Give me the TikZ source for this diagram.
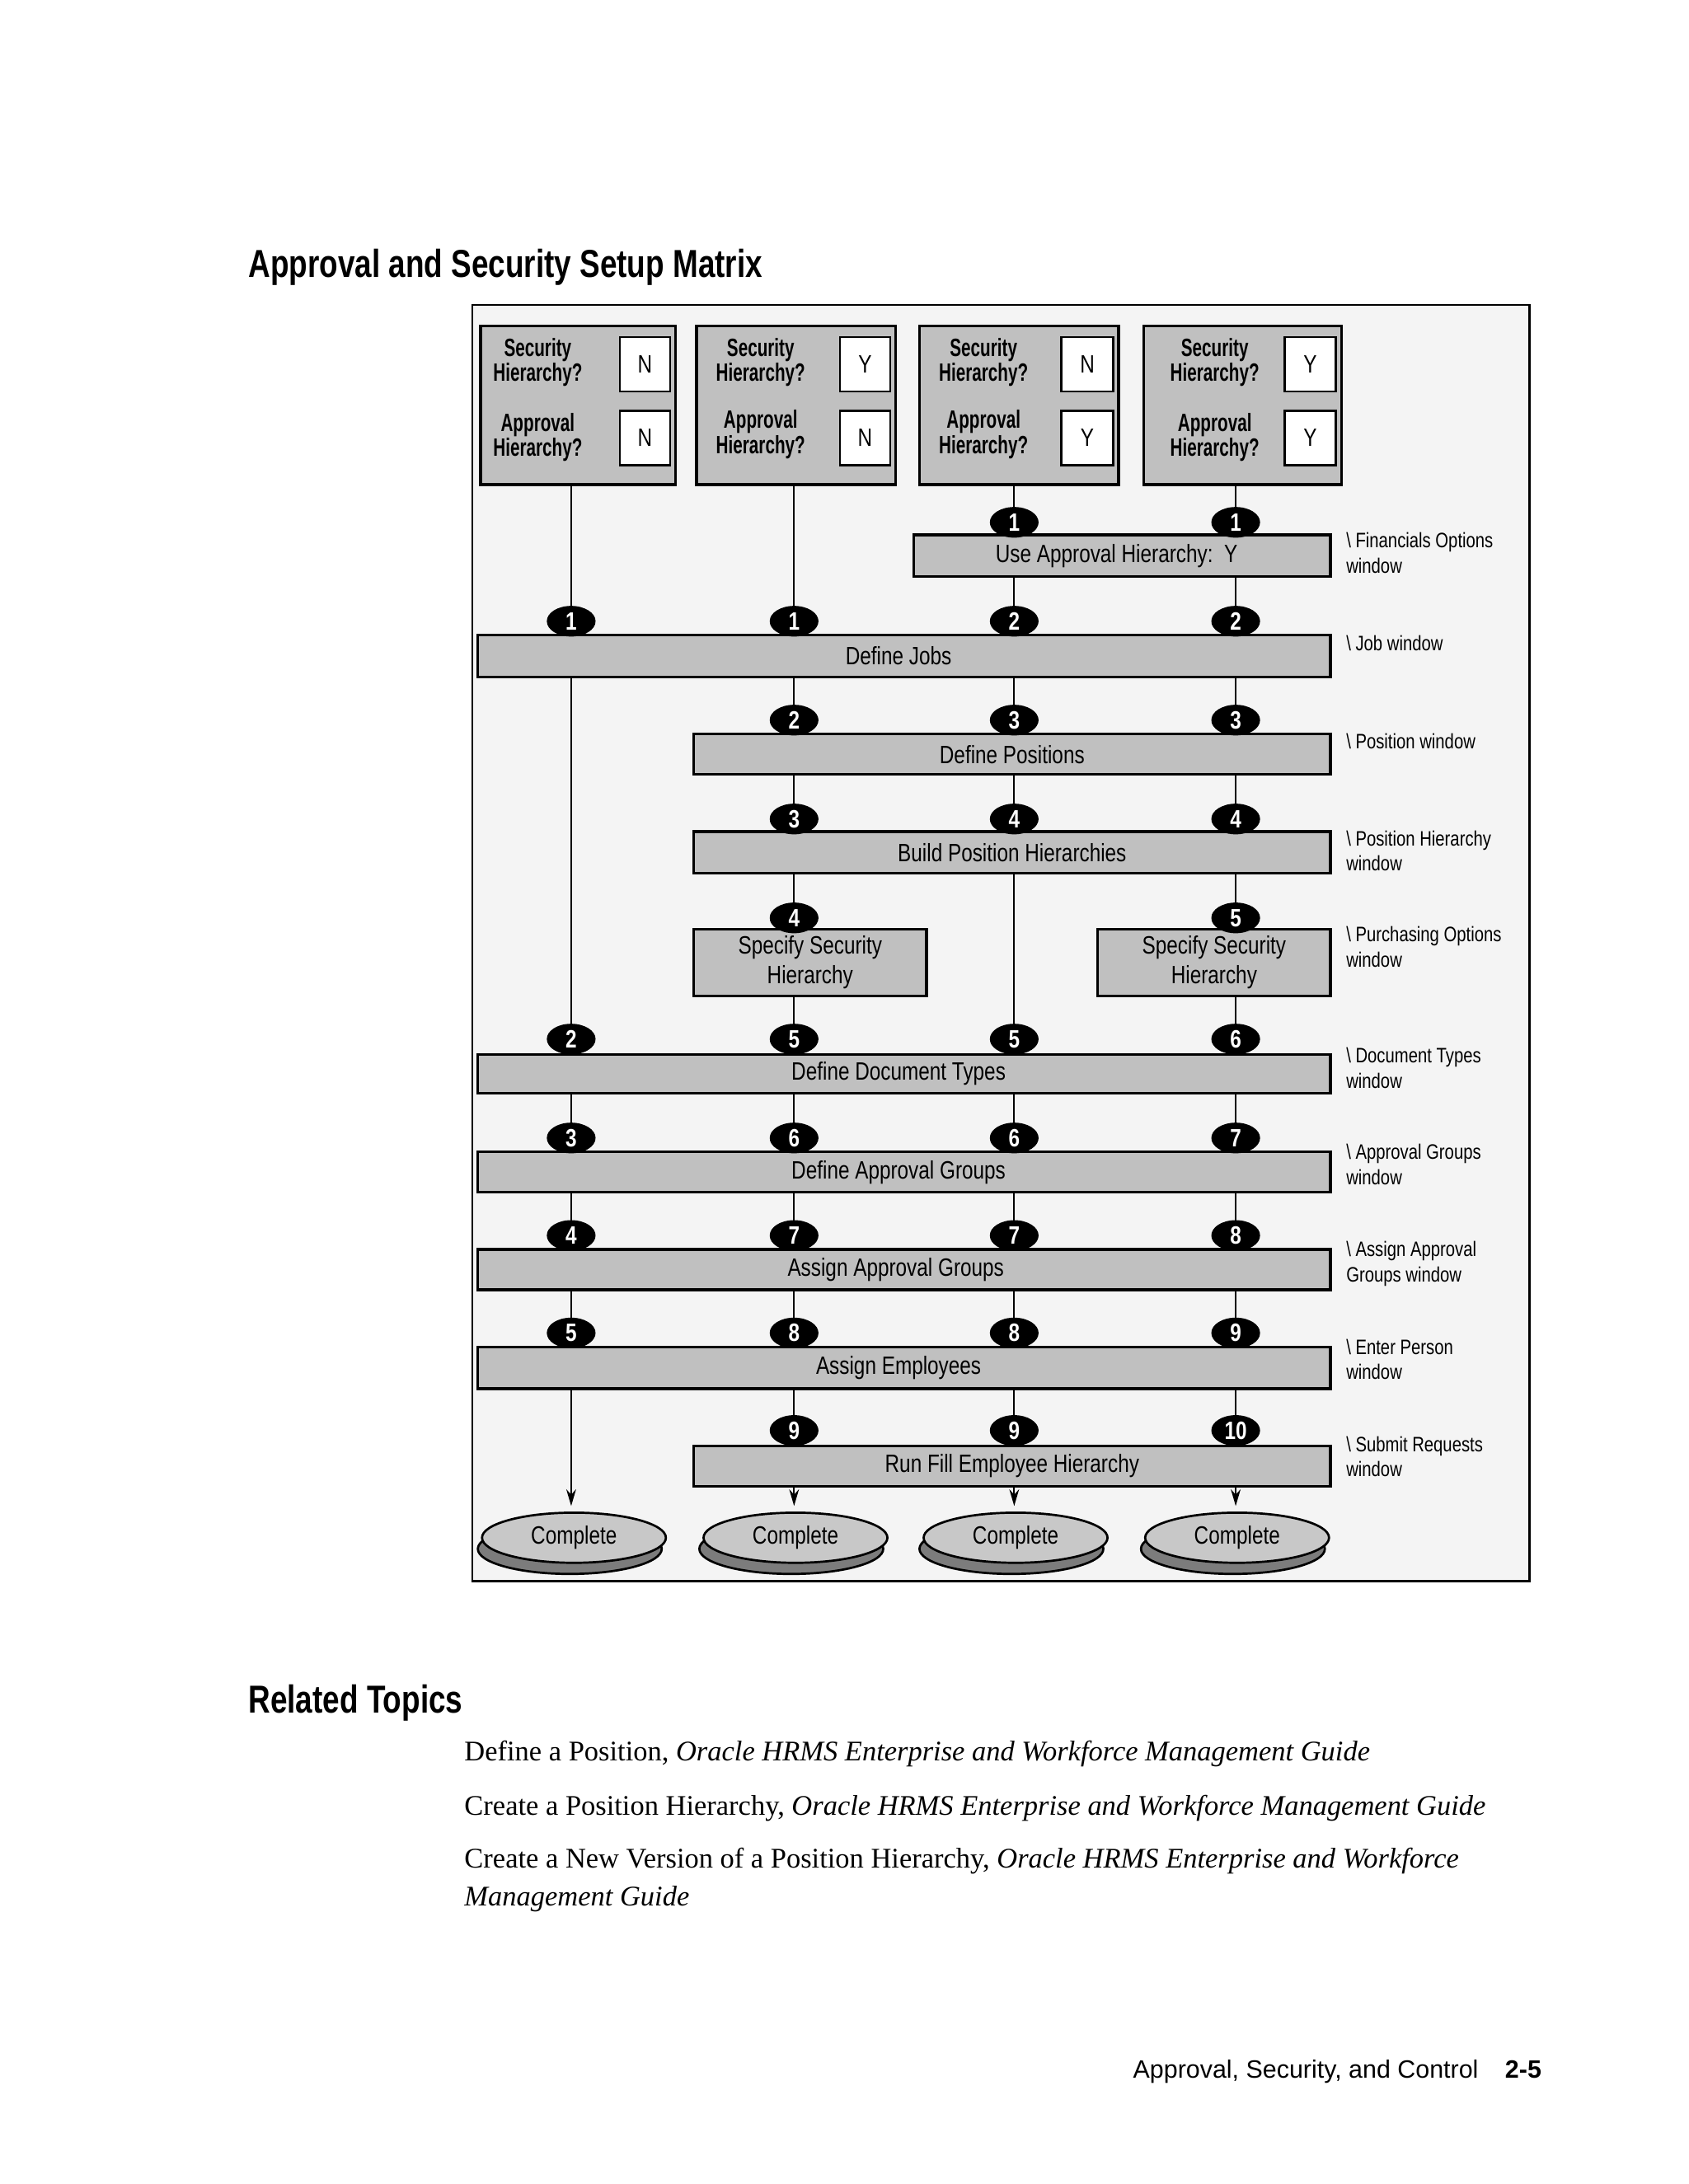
\documentclass[tikz,border=0pt]{standalone}
\usepackage{fontspec}
\setmainfont{Liberation Serif}
\newfontfamily\headfont[FakeStretch=0.78]{Liberation Sans}
\newfontfamily\cond[FakeStretch=0.8]{Liberation Sans}
\newfontfamily\condx[FakeStretch=0.68]{Liberation Sans}
\newfontfamily\plainsans{Liberation Sans}
\usetikzlibrary{shapes.geometric,fit,arrows.meta}
\definecolor{framebg}{HTML}{F4F4F4}
\definecolor{boxgray}{HTML}{C0C0C0}
\definecolor{ellgray}{HTML}{C8C8C8}
\definecolor{shadgray}{HTML}{7C7C7C}
\pgfdeclarelayer{bg}
\pgfdeclarelayer{lines}
\pgfsetlayers{bg,lines,main}
\begin{document}
\begin{tikzpicture}[x=0.5pt,y=-0.5pt,
  stepbox/.style={draw=black,line width=1pt,fill=boxgray,inner sep=0pt},
  steptext/.style={inner sep=0pt,align=center,font=\cond\fontsize{9}{10.5}\selectfont},
  qbox/.style={draw=black,line width=1pt,fill=boxgray,inner sep=0pt},
  ynbox/.style={draw=black,line width=0.8pt,fill=white,inner sep=0pt},
  yntext/.style={inner sep=0pt,font=\cond\fontsize{9}{10}\selectfont},
  qlabel/.style={align=center,inner sep=0pt,font=\condx\bfseries\fontsize{9}{9}\selectfont},
  badge/.style={ellipse,fill=black,minimum width=17.5pt,minimum height=11pt,inner sep=0pt,
    text=white,font=\cond\bfseries\fontsize{9}{9}\selectfont},
  conn/.style={line width=0.6pt},
  winlabel/.style={anchor=north west,inner sep=0pt,align=left,
    font=\cond\fontsize{7.5}{9}\selectfont},
  complete/.style={ellipse,draw=black,line width=0.8pt,fill=ellgray,minimum width=66pt,
    minimum height=18pt,inner sep=0pt,font=\cond\fontsize{9}{10}\selectfont},
  compshadow/.style={ellipse,draw=black,line width=0.8pt,fill=shadgray,minimum width=66pt,
    minimum height=18pt,inner sep=0pt},
  heading/.style={anchor=base west,inner sep=0pt,font=\headfont\bfseries\fontsize{14}{16}\selectfont},
  body/.style={anchor=base west,inner sep=0pt,font=\fontsize{10.2}{12}\selectfont},
  footer/.style={anchor=base west,inner sep=0pt,font=\plainsans\fontsize{9}{11}\selectfont}
]
\useasboundingbox (0,0) rectangle (1212,1568);

% headings
\node[heading] (title) at (178,199) {Approval and Security Setup Matrix};
\node[heading] (related) at (178,1230) {Related Topics};

% frame
\begin{pgfonlayer}{bg}
\draw[line width=0.8pt,fill=framebg] (339,219) rectangle (1098,1135);
\end{pgfonlayer}

% top question boxes
\node[qbox,fit={(345,234) (485,348)}] (tb1) {};
\node[qbox,fit={(500,234) (643,348)}] (tb2) {};
\node[qbox,fit={(660,234) (803,348)}] (tb3) {};
\node[qbox,fit={(821,234) (963,348)}] (tb4) {};

\node[qlabel] (s1) at (386,260) {Security\\Hierarchy?};
\node[qlabel] (a1) at (386,314) {Approval\\Hierarchy?};
\node[qlabel] (s2) at (546,260) {Security\\Hierarchy?};
\node[qlabel] (a2) at (546,312) {Approval\\Hierarchy?};
\node[qlabel] (s3) at (706,260) {Security\\Hierarchy?};
\node[qlabel] (a3) at (706,312) {Approval\\Hierarchy?};
\node[qlabel] (s4) at (872,260) {Security\\Hierarchy?};
\node[qlabel] (a4) at (872,314) {Approval\\Hierarchy?};

\foreach \n/\xa/\ya/\xb/\yb/\t in {
  ys1/445/242/481/281/N, ya1/445/295/481/334/N,
  ys2/603/242/639/281/Y, ya2/603/295/639/334/N,
  ys3/762/242/799/281/N, ya3/762/295/799/334/Y,
  ys4/922/242/959/281/Y, ya4/922/295/959/334/Y}{
  \node[ynbox,fit={(\xa,\ya) (\xb,\yb)}] (\n) {};
  \node[yntext] (\n t) at (\n.center) {\t};
}

% step boxes
\node[stepbox,fit={(656,384) (955,414)}] (uah) {};
\node[stepbox,fit={(343,456) (955,486)}] (jobs) {};
\node[stepbox,fit={(498,527) (955,556)}] (pos) {};
\node[stepbox,fit={(498,597) (955,627)}] (bph) {};
\node[stepbox,fit={(498,667) (665,715)}] (ssh1) {};
\node[stepbox,fit={(788,667) (955,715)}] (ssh2) {};
\node[stepbox,fit={(343,757) (955,785)}] (doc) {};
\node[stepbox,fit={(343,827) (955,856)}] (appr) {};
\node[stepbox,fit={(343,897) (955,926)}] (assign) {};
\node[stepbox,fit={(343,967) (955,997)}] (emp) {};
\node[stepbox,fit={(498,1038) (955,1067)}] (run) {};

\node[steptext] (uaht) at ([xshift=-2pt]uah.center) {Use Approval Hierarchy:\ \ Y};
\node[steptext] (jobst) at ([xshift=-2pt]jobs.center) {Define Jobs};
\node[steptext] (post) at (pos.center) {Define Positions};
\node[steptext] (bpht) at (bph.center) {Build Position Hierarchies};
\node[steptext] (ssh1t) at (ssh1.center) {Specify Security\\Hierarchy};
\node[steptext] (ssh2t) at (ssh2.center) {Specify Security\\Hierarchy};
\node[steptext] (doct) at ([xshift=-2pt]doc.center) {Define Document Types};
\node[steptext] (apprt) at ([xshift=-2pt]appr.center) {Define Approval Groups};
\node[steptext] (assignt) at ([xshift=-3pt]assign.center) {Assign Approval Groups};
\node[steptext] (empt) at ([xshift=-2pt]emp.center) {Assign Employees};
\node[steptext] (runt) at (run.center) {Run Fill Employee Hierarchy};

% window labels
\node[winlabel] (wl1) at (966,382) {\textbackslash\ Financials Options\\window};
\node[winlabel] (wl2) at (966,456) {\textbackslash\ Job window};
\node[winlabel] (wl3) at (966,526) {\textbackslash\ Position window};
\node[winlabel] (wl4) at (966,596) {\textbackslash\ Position Hierarchy\\window};
\node[winlabel] (wl5) at (966,665) {\textbackslash\ Purchasing Options\\window};
\node[winlabel] (wl6) at (966,752) {\textbackslash\ Document Types\\window};
\node[winlabel] (wl7) at (966,821) {\textbackslash\ Approval Groups\\window};
\node[winlabel] (wl8) at (966,891) {\textbackslash\ Assign Approval\\Groups window};
\node[winlabel] (wl9) at (966,961) {\textbackslash\ Enter Person\\window};
\node[winlabel] (wl10) at (966,1031) {\textbackslash\ Submit Requests\\window};

% badges
\foreach \n/\x/\y/\t in {
  ku3/728/375/1, ku4/887/375/1,
  kj1/410/446/1, kj2/570/446/1, kj3/728/446/2, kj4/887/446/2,
  kp2/570/517/2, kp3/728/517/3, kp4/887/517/3,
  kh2/570/588/3, kh3/728/588/4, kh4/887/588/4,
  ks2/570/659/4, ks4/887/659/5,
  kd1/410/746/2, kd2/570/746/5, kd3/728/746/5, kd4/887/746/6,
  kg1/410/817/3, kg2/570/817/6, kg3/728/817/6, kg4/887/817/7,
  ka1/410/887/4, ka2/570/887/7, ka3/728/887/7, ka4/887/887/8,
  ke1/410/957/5, ke2/570/957/8, ke3/728/957/8, ke4/887/957/9,
  kr2/570/1027/9, kr3/728/1027/9, kr4/887/1027/10}
  \node[badge] (\n) at (\x,\y) {\t};

% complete ellipses
\foreach \i/\x in {1/412,2/571,3/729,4/888}{
  \node[compshadow] (cs\i) at (\x-3,1112) {};
  \node[complete] (comp\i) at (\x,1104) {Complete};
}

% connectors
\begin{pgfonlayer}{lines}
\foreach \a/\b in {
  tb1/kj1, jobs/kd1, doc/kg1, appr/ka1, assign/ke1,
  tb2/kj2, jobs/kp2, pos/kh2, bph/ks2, ssh1/kd2, doc/kg2, appr/ka2, assign/ke2, emp/kr2,
  tb3/ku3, uah/kj3, jobs/kp3, pos/kh3, bph/kd3, doc/kg3, appr/ka3, assign/ke3, emp/kr3,
  tb4/ku4, uah/kj4, jobs/kp4, pos/kh4, bph/ks4, ssh2/kd4, doc/kg4, appr/ka4, assign/ke4, emp/kr4}
  \draw[conn] (\b |- \a.south) -- (\b.center);
\end{pgfonlayer}
\foreach \a/\b/\c in {emp/ke1/comp1, run/kr2/comp2, run/kr3/comp3, run/kr4/comp4}
  \draw[conn,-{Stealth[length=6pt,width=3.5pt]}] (\b |- \a.south) -- ([yshift=2pt]\b |- \c.north);

% related topics
\node[body] (rt1) at (333,1264) {Define a Position, \textit{Oracle HRMS Enterprise and Workforce Management Guide}};
\node[body] (rt2) at (333,1303) {Create a Position Hierarchy, \textit{Oracle HRMS Enterprise and Workforce Management Guide}};
\node[body] (rt3) at (333,1341) {Create a New Version of a Position Hierarchy, \textit{Oracle HRMS Enterprise and Workforce}};
\node[body] (rt4) at (333,1368) {\textit{Management Guide}};

% footer
\node[footer] (ft) at (813,1492) {Approval, Security, and Control};
\node[footer,font=\plainsans\bfseries\fontsize{9}{11}\selectfont] (pg) at (1080,1492) {2-5};
\end{tikzpicture}
\end{document}
